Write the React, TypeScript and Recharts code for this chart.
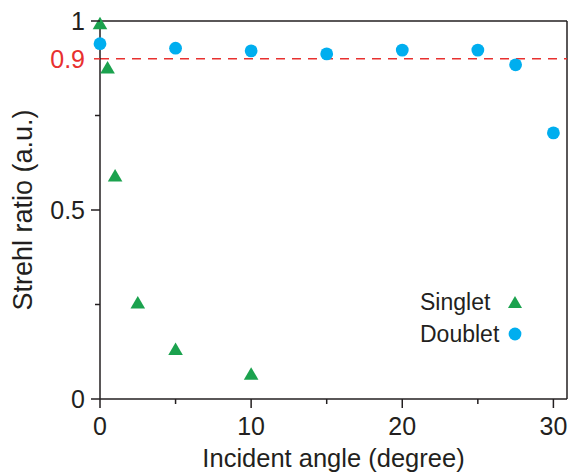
import { ScatterChart, Scatter, XAxis, YAxis, ReferenceLine, Legend } from 'recharts'

const singletAngle = [0, 0.5, 1, 2.5, 5, 10]
const singletStrehl = [0.99, 0.873, 0.587, 0.251, 0.128, 0.063]

const doubletAngle = [0, 5, 10, 15, 20, 25, 27.5, 30]
const doubletStrehl = [0.94, 0.928, 0.921, 0.913, 0.923, 0.923, 0.884, 0.704]

const xTicks = [0, 5, 10, 15, 20, 25, 30]
const xLabelled = [0, 10, 20, 30]
const yTicks = [0, 0.25, 0.5, 0.75, 0.9, 1]
const yLabels: Record<number, string> = { 0: '0', 0.5: '0.5', 0.9: '0.9', 1: '1' }
const threshold = 0.9

const INK = '#231f20'
const GREEN = '#1ba24e'
const BLUE = '#00aeef'
const RED = '#e8302f'
const FONT = '"Liberation Sans", Arial, sans-serif'

const singlet = singletAngle.map((x, i) => ({ x, y: singletStrehl[i] }))
const doublet = doubletAngle.map((x, i) => ({ x, y: doubletStrehl[i] }))

// markers: triangle ~14px wide, dot ~12.7px across
const Triangle = (p: any) => {
  const { cx, cy } = p
  return <polygon points={`${cx},${cy - 8} ${cx + 7.3},${cy + 4.5} ${cx - 7.3},${cy + 4.5}`} fill={GREEN} />
}
const Dot = (p: any) => <circle cx={p.cx} cy={p.cy} r={6.4} fill={BLUE} />

function XTick(props: any) {
  const { x, y, payload } = props
  const major = xLabelled.includes(payload.value)
  return (
    <g>
      <line x1={x} x2={x} y1={y} y2={y + (major ? 9 : 5)} stroke={INK} strokeWidth={1.5} />
      {major && (
        <text x={x} y={y + 36} textAnchor="middle" fontSize={25} fontFamily={FONT} fill={INK}>
          {payload.value}
        </text>
      )}
    </g>
  )
}

function YTick(props: any) {
  const { x, y, payload } = props
  const v = payload.value
  const label = yLabels[v]
  const isRed = v === threshold
  const major = label !== undefined
  return (
    <g>
      {!isRed && (
        <line x1={x} x2={x - (major ? 9 : 5)} y1={y} y2={y} stroke={INK} strokeWidth={1.5} />
      )}
      {isRed && <line x1={x} x2={x - 6} y1={y} y2={y} stroke={RED} strokeWidth={1.5} />}
      {major && (
        <text x={x - 15} y={y + 9} textAnchor="end" fontSize={25} fontFamily={FONT} fill={isRed ? RED : INK}>
          {label}
        </text>
      )}
    </g>
  )
}

function LegendBox() {
  const rows = [
    { name: 'Singlet', shape: 'triangle' },
    { name: 'Doublet', shape: 'circle' },
  ]
  return (
    <div style={{ fontFamily: FONT, fontSize: 23, color: INK }}>
      {rows.map(r => (
        <div key={r.name} style={{ display: 'flex', alignItems: 'center', height: 32 }}>
          <span style={{ width: 87 }}>{r.name}</span>
          <svg width={16} height={16}>
            {r.shape === 'triangle' ? (
              <polygon points="8,2 15,14 1,14" fill={GREEN} />
            ) : (
              <circle cx={8} cy={8} r={6.4} fill={BLUE} />
            )}
          </svg>
        </div>
      ))}
    </div>
  )
}

export default function App() {
  return (
    <div style={{ position: 'absolute', left: 0, top: 0 }}>
      <ScatterChart width={571} height={475} margin={{ top: 21, right: 4, bottom: 16, left: 0 }}>
        <XAxis
          type="number"
          dataKey="x"
          domain={[0, 30.9]}
          ticks={xTicks}
          tick={<XTick />}
          tickLine={false}
          tickSize={0}
          tickMargin={0}
          height={60}
          axisLine={{ stroke: INK, strokeWidth: 1.5 }}
          label={{ value: 'Incident angle (degree)', position: 'insideBottom', offset: 0, dy: 8, fontSize: 25.5, fontFamily: FONT, fill: INK }}
        />
        <YAxis
          type="number"
          dataKey="y"
          domain={[0, 1]}
          ticks={yTicks}
          tick={<YTick />}
          tickLine={false}
          tickSize={0}
          tickMargin={0}
          width={100}
          axisLine={{ stroke: INK, strokeWidth: 1.5 }}
          label={{ value: 'Strehl ratio (a.u.)', angle: -90, position: 'insideLeft', dx: 17, dy: 0, style: { textAnchor: 'middle' }, fontSize: 27, fontFamily: FONT, fill: INK }}
        />
        <ReferenceLine y={1} stroke={INK} strokeWidth={1.5} />
        <ReferenceLine x={30.9} stroke={INK} strokeWidth={1.5} />
        <ReferenceLine y={threshold} stroke={RED} strokeWidth={1.5} strokeDasharray="9 7" />
        <Legend
          layout="vertical"
          align="center"
          verticalAlign="middle"
          wrapperStyle={{ left: 420, top: 286, width: 120 }}
          content={<LegendBox />}
        />
        <Scatter name="Singlet" data={singlet} shape={Triangle} fill={GREEN} legendType="triangle" isAnimationActive={false} />
        <Scatter name="Doublet" data={doublet} shape={Dot} fill={BLUE} legendType="circle" isAnimationActive={false} />
      </ScatterChart>
    </div>
  )
}
